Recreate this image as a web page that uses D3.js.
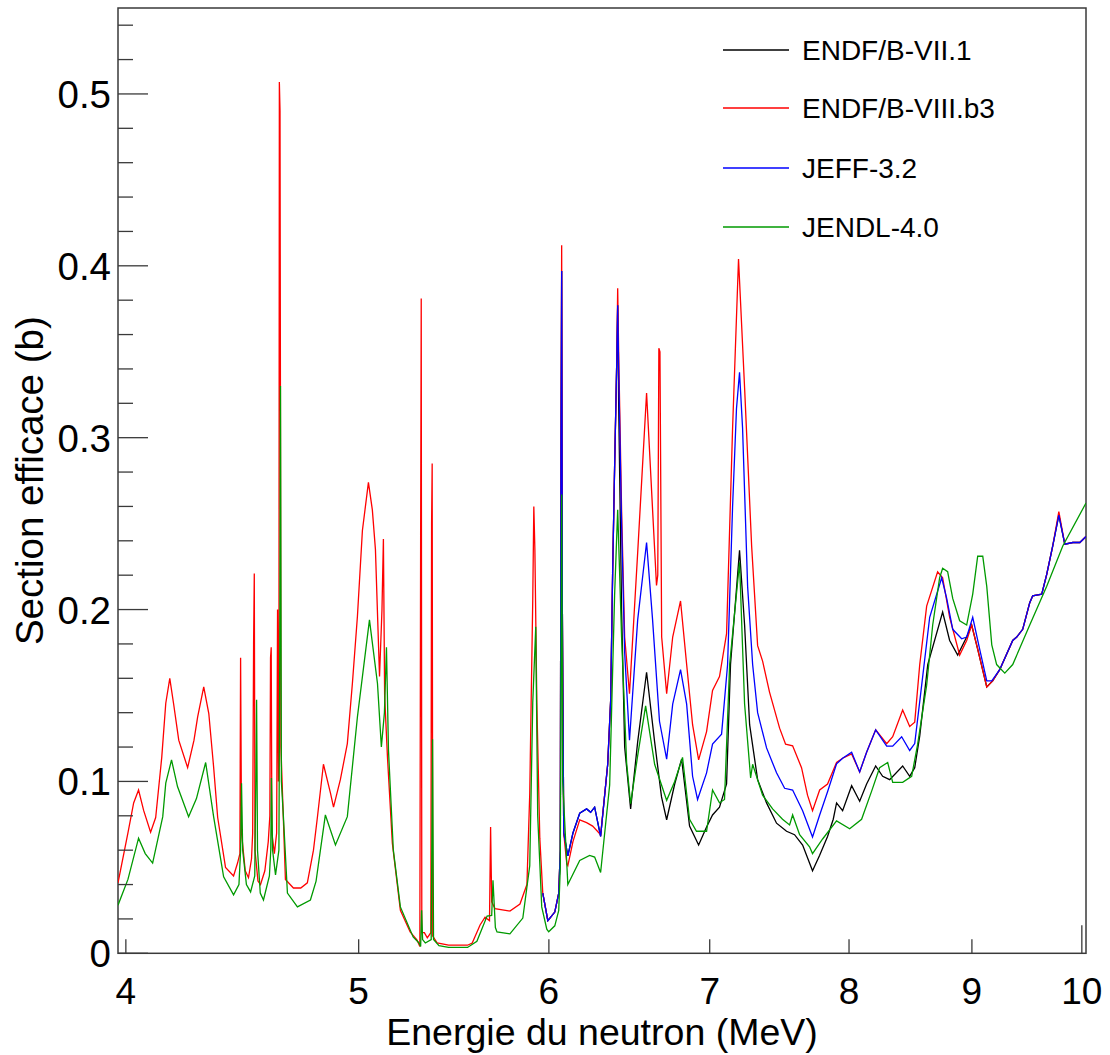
<!DOCTYPE html>
<html><head><meta charset="utf-8">
<script src="https://cdn.jsdelivr.net/npm/d3@7"></script>
<style>body{margin:0;background:#fff} svg text{font-family:"Liberation Sans",Arial,Helvetica,sans-serif;fill:#000}</style>
</head><body><svg id="c" width="1110" height="1055"></svg>
<script>
// ---------- data (energy in MeV, cross section in barn) ----------
const seriesNames = ["ENDF/B-VII.1", "ENDF/B-VIII.b3", "JEFF-3.2", "JENDL-4.0"];
const seriesColors = ["#000000", "#ff0000", "#0000ff", "#009a00"];
const xTickValues = [4, 5, 6, 7, 8, 9, 10];
const xTickLabels = ["4", "5", "6", "7", "8", "9", "10"];
const yTickValues = [0, 0.1, 0.2, 0.3, 0.4, 0.5];
const yTickLabels = ["0", "0.1", "0.2", "0.3", "0.4", "0.5"];

// ENDF/B-VIII.b3 (below ~6 MeV ENDF/B-VII.1 and JEFF-3.2 coincide with it)
const endf8 = [
[3.970,0.041],[4.008,0.070],[4.030,0.0875],[4.049,0.095],[4.069,0.083],[4.096,0.0705],[4.116,0.079],[4.140,0.114],[4.156,0.1455],[4.172,0.160],[4.187,0.1455],[4.208,0.124],[4.244,0.108],[4.270,0.124],[4.285,0.1375],[4.310,0.155],[4.331,0.1395],[4.351,0.1085],[4.368,0.079],[4.401,0.050],[4.435,0.045],[4.452,0.0525],[4.462,0.058],[4.465,0.172],[4.469,0.07],[4.485,0.048],[4.499,0.044],[4.512,0.055],[4.517,0.07],[4.521,0.18],[4.524,0.221],[4.527,0.06],[4.540,0.042],[4.551,0.040],[4.570,0.048],[4.585,0.065],[4.592,0.08],[4.595,0.172],[4.598,0.178],[4.601,0.07],[4.612,0.058],[4.622,0.07],[4.626,0.20],[4.630,0.10],[4.632,0.12],[4.634,0.507],[4.637,0.49],[4.641,0.12],[4.648,0.093],[4.661,0.043],[4.697,0.038],[4.730,0.038],[4.760,0.041],[4.788,0.060],[4.806,0.079],[4.834,0.110],[4.867,0.093],[4.881,0.085],[4.913,0.101],[4.946,0.122],[4.970,0.157],[4.994,0.196],[5.018,0.246],[5.047,0.274],[5.066,0.258],[5.081,0.235],[5.101,0.161],[5.113,0.20],[5.120,0.241],[5.126,0.15],[5.140,0.114],[5.164,0.064],[5.204,0.025],[5.253,0.0124],[5.288,0.0077],[5.302,0.004],[5.306,0.243],[5.309,0.381],[5.312,0.012],[5.325,0.012],[5.340,0.009],[5.358,0.012],[5.362,0.25],[5.365,0.285],[5.368,0.01],[5.391,0.006],[5.45,0.0047],[5.55,0.0047],[5.575,0.006],[5.617,0.0165],[5.644,0.021],[5.668,0.019],[5.674,0.0735],[5.680,0.03],[5.698,0.026],[5.780,0.0246],[5.836,0.0287],[5.875,0.040],[5.891,0.093],[5.908,0.206],[5.914,0.260],[5.920,0.235],[5.931,0.146],[5.948,0.067],[5.965,0.035],[5.994,0.019],[6.034,0.024],[6.057,0.035],[6.066,0.06],[6.070,0.295],[6.074,0.412],[6.078,0.20],[6.086,0.07],[6.104,0.052],[6.110,0.051],[6.140,0.065],[6.180,0.0776],[6.221,0.076],[6.257,0.074],[6.305,0.069],[6.348,0.11],[6.366,0.147],[6.378,0.221],[6.390,0.282],[6.403,0.343],[6.409,0.387],[6.415,0.35],[6.433,0.258],[6.452,0.184],[6.482,0.151],[6.533,0.233],[6.589,0.326],[6.627,0.258],[6.652,0.214],[6.660,0.22],[6.667,0.352],[6.674,0.35],[6.685,0.184],[6.717,0.151],[6.756,0.184],[6.807,0.205],[6.847,0.168],[6.886,0.133],[6.926,0.1125],[6.979,0.129],[7.019,0.153],[7.066,0.161],[7.114,0.186],[7.155,0.305],[7.196,0.404],[7.238,0.329],[7.287,0.237],[7.329,0.179],[7.364,0.170],[7.413,0.152],[7.485,0.131],[7.528,0.1217],[7.579,0.1207],[7.644,0.108],[7.688,0.092],[7.725,0.083],[7.778,0.095],[7.837,0.0985],[7.905,0.111],[7.951,0.1135],[8.020,0.116],[8.082,0.1055],[8.136,0.117],[8.207,0.130],[8.294,0.122],[8.342,0.126],[8.422,0.1415],[8.479,0.132],[8.520,0.1345],[8.561,0.168],[8.618,0.202],[8.709,0.222],[8.751,0.2185],[8.810,0.1955],[8.895,0.1735],[8.955,0.182],[8.998,0.191],[9.050,0.177],[9.129,0.155],[9.181,0.1585],[9.243,0.165],[9.359,0.182],[9.395,0.184],[9.449,0.1885],[9.513,0.204],[9.540,0.208],[9.623,0.209],[9.669,0.2205],[9.725,0.237],[9.782,0.257],[9.838,0.238],[9.914,0.239],[9.981,0.239],[10.04,0.2425]
];

// JEFF-3.2 (from ~5.97 MeV, where it separates from ENDF/B-VIII.b3)
const jeff = [
[5.965,0.035],[5.994,0.019],[6.034,0.024],[6.057,0.035],[6.066,0.06],[6.070,0.295],[6.074,0.397],[6.078,0.20],[6.086,0.07],[6.110,0.0567],[6.140,0.070],[6.180,0.0815],[6.221,0.084],[6.245,0.082],[6.269,0.085],[6.305,0.068],[6.348,0.11],[6.366,0.147],[6.378,0.221],[6.390,0.282],[6.403,0.343],[6.409,0.377],[6.415,0.34],[6.433,0.25],[6.452,0.175],[6.482,0.124],[6.533,0.194],[6.589,0.239],[6.627,0.194],[6.671,0.135],[6.717,0.113],[6.756,0.145],[6.807,0.165],[6.847,0.145],[6.886,0.103],[6.919,0.0895],[6.979,0.105],[7.019,0.1217],[7.080,0.1275],[7.121,0.168],[7.155,0.2595],[7.182,0.317],[7.203,0.338],[7.224,0.3055],[7.259,0.2135],[7.294,0.168],[7.329,0.140],[7.392,0.1195],[7.463,0.105],[7.521,0.096],[7.579,0.095],[7.652,0.083],[7.725,0.0677],[7.778,0.0805],[7.837,0.094],[7.905,0.1102],[7.951,0.1135],[8.020,0.117],[8.082,0.1055],[8.136,0.117],[8.207,0.130],[8.294,0.1205],[8.342,0.1205],[8.414,0.126],[8.479,0.118],[8.520,0.122],[8.577,0.156],[8.643,0.1955],[8.743,0.2185],[8.785,0.2065],[8.836,0.1885],[8.912,0.183],[8.955,0.184],[9.007,0.1955],[9.067,0.177],[9.129,0.1585],[9.173,0.1585],[9.243,0.165],[9.359,0.182],[9.395,0.184],[9.449,0.1885],[9.513,0.204],[9.540,0.208],[9.623,0.209],[9.669,0.2205],[9.725,0.237],[9.782,0.255],[9.838,0.238],[9.914,0.239],[9.981,0.239],[10.04,0.2425]
];

// ENDF/B-VII.1 (from ~5.97 MeV)
const endf7 = [
[5.965,0.035],[5.994,0.019],[6.034,0.024],[6.057,0.035],[6.066,0.06],[6.070,0.295],[6.074,0.397],[6.078,0.20],[6.086,0.07],[6.110,0.0567],[6.140,0.070],[6.180,0.0815],[6.221,0.084],[6.245,0.082],[6.269,0.085],[6.305,0.068],[6.348,0.11],[6.366,0.147],[6.378,0.221],[6.390,0.282],[6.403,0.343],[6.409,0.377],[6.415,0.32],[6.433,0.20],[6.452,0.12],[6.489,0.084],[6.533,0.123],[6.589,0.1635],[6.640,0.123],[6.684,0.091],[6.717,0.0777],[6.769,0.0985],[6.814,0.113],[6.866,0.074],[6.926,0.063],[6.979,0.0735],[7.019,0.0805],[7.066,0.085],[7.114,0.0985],[7.141,0.168],[7.203,0.2345],[7.238,0.191],[7.273,0.133],[7.329,0.101],[7.392,0.0875],[7.463,0.0757],[7.535,0.071],[7.593,0.069],[7.652,0.063],[7.725,0.048],[7.778,0.057],[7.837,0.068],[7.880,0.078],[7.905,0.0875],[7.951,0.083],[8.020,0.0975],[8.082,0.0885],[8.136,0.0985],[8.207,0.109],[8.262,0.103],[8.318,0.101],[8.422,0.109],[8.479,0.103],[8.520,0.108],[8.561,0.1265],[8.627,0.168],[8.751,0.1985],[8.810,0.182],[8.878,0.1735],[8.955,0.184],[8.998,0.191],[9.050,0.177],[9.129,0.155],[9.181,0.1585],[9.243,0.165],[9.359,0.182],[9.395,0.184],[9.449,0.1885],[9.513,0.204],[9.540,0.208],[9.623,0.209],[9.669,0.2205],[9.725,0.237],[9.782,0.255],[9.838,0.238],[9.914,0.239],[9.981,0.239],[10.04,0.2425]
];

// JENDL-4.0
const jendl = [
[3.970,0.028],[4.008,0.043],[4.049,0.067],[4.075,0.058],[4.104,0.0525],[4.144,0.0795],[4.156,0.099],[4.179,0.1125],[4.203,0.097],[4.248,0.0795],[4.280,0.090],[4.318,0.111],[4.351,0.0795],[4.393,0.0445],[4.435,0.034],[4.458,0.040],[4.465,0.06],[4.469,0.099],[4.474,0.06],[4.490,0.040],[4.508,0.0357],[4.526,0.045],[4.531,0.107],[4.534,0.1475],[4.538,0.06],[4.550,0.035],[4.564,0.031],[4.590,0.045],[4.596,0.06],[4.599,0.102],[4.604,0.06],[4.617,0.0456],[4.632,0.06],[4.636,0.18],[4.639,0.33],[4.643,0.10],[4.652,0.0795],[4.670,0.035],[4.715,0.027],[4.774,0.031],[4.800,0.042],[4.820,0.060],[4.843,0.0805],[4.890,0.063],[4.946,0.0795],[4.994,0.1375],[5.052,0.194],[5.091,0.157],[5.110,0.120],[5.125,0.14],[5.135,0.178],[5.145,0.118],[5.169,0.060],[5.204,0.027],[5.268,0.0095],[5.298,0.006],[5.306,0.004],[5.311,0.025],[5.316,0.008],[5.330,0.006],[5.360,0.008],[5.367,0.1245],[5.372,0.008],[5.40,0.0045],[5.45,0.0034],[5.55,0.0034],[5.60,0.007],[5.655,0.0217],[5.680,0.022],[5.687,0.0425],[5.700,0.015],[5.709,0.0124],[5.780,0.0113],[5.852,0.0205],[5.891,0.051],[5.908,0.146],[5.925,0.190],[5.936,0.080],[5.959,0.027],[5.988,0.014],[5.999,0.0125],[6.034,0.016],[6.057,0.025],[6.066,0.05],[6.074,0.267],[6.080,0.10],[6.110,0.040],[6.180,0.054],[6.239,0.057],[6.269,0.056],[6.305,0.047],[6.360,0.098],[6.390,0.208],[6.409,0.258],[6.433,0.184],[6.464,0.111],[6.489,0.087],[6.533,0.115],[6.583,0.144],[6.640,0.11],[6.691,0.096],[6.717,0.089],[6.769,0.10],[6.820,0.114],[6.866,0.078],[6.912,0.071],[6.979,0.071],[7.019,0.095],[7.066,0.0875],[7.100,0.0895],[7.135,0.168],[7.203,0.2275],[7.238,0.145],[7.280,0.102],[7.294,0.110],[7.364,0.092],[7.435,0.084],[7.506,0.078],[7.557,0.0747],[7.579,0.0805],[7.630,0.069],[7.703,0.062],[7.725,0.058],[7.800,0.0665],[7.905,0.077],[8.005,0.0725],[8.097,0.078],[8.176,0.0945],[8.238,0.108],[8.302,0.111],[8.342,0.0995],[8.422,0.0995],[8.495,0.103],[8.544,0.1217],[8.618,0.156],[8.668,0.191],[8.726,0.2185],[8.751,0.224],[8.793,0.222],[8.836,0.2065],[8.895,0.1935],[8.955,0.191],[9.007,0.209],[9.050,0.231],[9.094,0.231],[9.129,0.2135],[9.173,0.1795],[9.216,0.168],[9.288,0.163],[9.359,0.168],[9.513,0.191],[9.669,0.2135],[9.819,0.237],[10.04,0.262]
];

// ---------- layout ----------
const L = 118, R = 1086, T = 8, B = 953.3;
const svg = d3.select("#c");
const x = d3.scaleLog().domain([3.97, 10.04]).range([L, R]);
const y = d3.scaleLinear().domain([0, 0.55]).range([B, T]);

svg.append("defs").append("clipPath").attr("id", "clip")
  .append("rect").attr("x", L).attr("y", T).attr("width", R - L).attr("height", B - T);

// frame
svg.append("rect").attr("x", L).attr("y", T).attr("width", R - L).attr("height", B - T)
  .attr("fill", "none").attr("stroke", "#3a3a3a").attr("stroke-width", 1.5);

// curves (draw order: VII.1, VIII.b3, JEFF, JENDL)
const line = d3.line().x(d => x(d[0])).y(d => y(d[1]));
const datasets = [endf7, endf8, jeff, jendl];
const g = svg.append("g").attr("clip-path", "url(#clip)");
datasets.forEach((ds, i) => {
  g.append("path").datum(ds).attr("d", line)
    .attr("fill", "none").attr("stroke", seriesColors[i])
    .attr("stroke-width", 1.3).attr("stroke-linejoin", "miter");
});

// y axis ticks (inside)
const yMinor = d3.range(0, 0.5501, 0.02).filter(v => Math.abs(v * 10 - Math.round(v * 10)) > 1e-6);
svg.append("g").selectAll("line.ymin").data(yMinor).join("line")
  .attr("x1", L).attr("x2", L + 15).attr("y1", d => y(d)).attr("y2", d => y(d))
  .attr("stroke", "#3a3a3a").attr("stroke-width", 1.3);
svg.append("g").selectAll("line.ymaj").data(yTickValues).join("line")
  .attr("x1", L).attr("x2", L + 30).attr("y1", d => y(d)).attr("y2", d => y(d))
  .attr("stroke", "#3a3a3a").attr("stroke-width", 1.3);
svg.append("g").selectAll("text").data(yTickValues).join("text")
  .attr("x", 111).attr("y", d => y(d) + 14).attr("text-anchor", "end")
  .attr("font-size", 38.5).text((d, i) => yTickLabels[i]);

// x axis ticks (inside)
svg.append("g").selectAll("line").data(xTickValues).join("line")
  .attr("x1", d => x(d)).attr("x2", d => x(d)).attr("y1", B)
  .attr("y2", d => B - (d === 10 ? 28 : 14))
  .attr("stroke", "#3a3a3a").attr("stroke-width", 1.3);
svg.append("g").selectAll("text").data(xTickValues).join("text")
  .attr("x", d => x(d)).attr("y", 1003.5).attr("text-anchor", "middle")
  .attr("font-size", 37).text((d, i) => xTickLabels[i]);

// axis titles
svg.append("text").attr("x", (L + R) / 2).attr("y", 1045).attr("text-anchor", "middle")
  .attr("font-size", 37.5).text("Energie du neutron (MeV)");
svg.append("text").attr("transform", `translate(43,${(T + B) / 2}) rotate(-90)`)
  .attr("text-anchor", "middle").attr("font-size", 38.5).text("Section efficace (b)");

// legend
const legY = [50, 108, 168, 227];
const leg = svg.append("g");
seriesNames.forEach((name, i) => {
  leg.append("line").attr("x1", 723).attr("x2", 789).attr("y1", legY[i]).attr("y2", legY[i])
    .attr("stroke", seriesColors[i]).attr("stroke-width", 1.3);
  leg.append("text").attr("x", 802).attr("y", legY[i] + 10).attr("font-size", 28).text(name);
});
</script></body></html>
